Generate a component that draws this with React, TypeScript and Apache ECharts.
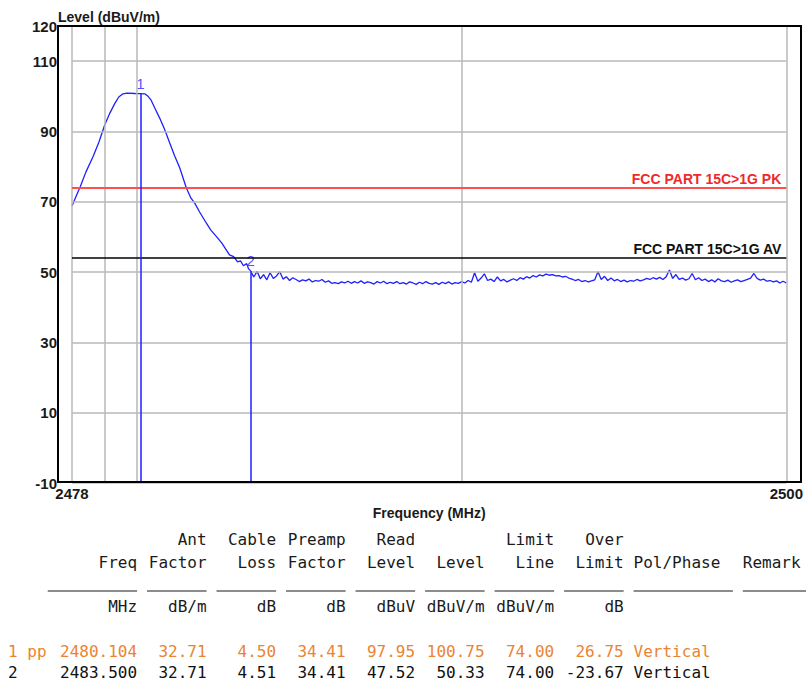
import React, { useEffect, useRef } from 'react';
import * as echarts from 'echarts';

// ---- axes ----
const FREQ_MIN = 2478;
const FREQ_MAX = 2500;
const LEVEL_MIN = -10;
const LEVEL_MAX = 120;
const X_TICK_LABELS = [2478, 2500];
const Y_TICK_LABELS = [120, 110, 90, 70, 50, 30, 10, -10];
const X_GRID = [2478, 2479, 2480, 2490, 2500];
const Y_GRID = [110, 90, 70, 50, 30, 10, -10];

// ---- trace: main lobe ----
const LOBE_FREQ = [2478.0, 2478.12, 2478.25, 2478.43, 2478.65, 2478.83, 2479.01, 2479.17, 2479.32, 2479.44,
  2479.57, 2479.69, 2479.94, 2480.104, 2480.24, 2480.33, 2480.43, 2480.55, 2480.7, 2480.86,
  2481.01, 2481.16, 2481.32, 2481.52, 2481.66, 2481.78, 2481.93, 2482.14, 2482.27, 2482.45,
  2482.61, 2482.73, 2482.85, 2482.98, 2483.1, 2483.19, 2483.28, 2483.38, 2483.44, 2483.5];
const LOBE_LEVEL = [68.8, 71.4, 74.2, 78.5, 82.9, 87.0, 91.9, 95.3, 98.0, 99.8,
  100.7, 100.9, 100.8, 100.75, 100.7, 100.1, 99.0, 96.7, 93.8, 90.4,
  86.7, 83.1, 79.6, 74.0, 71.1, 69.6, 67.1, 63.9, 62.0, 60.1,
  58.3, 56.6, 54.9, 54.4, 52.9, 53.2, 51.8, 52.4, 50.9, 50.33];

// ---- trace: noise floor sweep, 0.1 MHz steps from 2483.6 MHz ----
const SWEEP_START = 2483.6;
const SWEEP_STEP = 0.1;
const SWEEP_LEVEL = [
  48.6, 50.2, 48.1, 49.3, 47.8, 49.8, 48.2, 48.9, 50.1, 48.0,
  48.7, 47.6, 48.4, 47.9, 47.3, 47.8, 47.5, 48.0, 47.2, 47.6,
  47.4, 47.9, 47.1, 47.5, 46.8, 47.0, 46.7, 47.2, 46.9, 47.4,
  46.8, 47.3, 46.9, 47.5, 46.8, 47.2, 47.0, 46.6, 47.3, 46.9,
  47.4, 46.7, 47.1, 46.8, 47.3, 46.7, 47.0, 46.6, 47.2, 46.9,
  46.5, 47.1, 46.7, 47.3, 46.8, 46.6, 47.0, 46.5, 47.1, 46.7,
  47.2, 46.6, 47.0, 46.8, 47.3, 46.9, 47.6, 47.1, 49.8, 47.4,
  48.3, 49.5, 47.6, 48.0, 47.3, 48.6, 47.5, 47.9, 47.2, 47.7,
  48.1, 47.6, 48.4, 48.0, 48.7, 48.3, 49.0, 48.6, 49.2, 48.9,
  49.4, 49.1, 49.3, 48.9, 49.0, 48.6, 48.8, 48.3, 48.0, 47.6,
  47.9, 47.3, 47.6, 47.2, 47.5, 47.8, 50.1, 47.9, 48.8, 47.6,
  48.3, 47.5, 47.9, 47.3, 47.7, 47.2, 47.6, 47.4, 47.9, 47.5,
  47.8, 48.2, 47.9, 48.4, 48.0, 48.5, 47.9, 48.7, 50.6, 48.2,
  49.3, 47.9, 48.3, 47.7, 48.1, 49.6, 47.8, 48.4, 47.6, 48.0,
  47.3, 47.8, 47.2, 48.1, 47.5, 47.3, 47.7, 47.1, 47.5, 47.8,
  47.3, 47.6, 47.9, 48.3, 49.6, 48.2, 47.7, 48.0, 47.4, 47.6,
  47.2, 47.5, 46.9, 47.4, 46.9,
];

// ---- markers ----
const MARKER_IDS = ['1', '2'];
const MARKER_FREQ = [2480.104, 2483.5];
const MARKER_LEVEL = [100.75, 50.33];

// ---- limits ----
const LIMIT_NAMES = ['FCC PART 15C>1G PK', 'FCC PART 15C>1G AV'];
const LIMIT_VALUES = [74, 54];

// ---- table ----
const TABLE_HEAD1 = ['', 'Ant', 'Cable', 'Preamp', 'Read', '', 'Limit', 'Over'];
const TABLE_HEAD2 = ['Freq', 'Factor', 'Loss', 'Factor', 'Level', 'Level', 'Line', 'Limit'];
const TABLE_UNITS = ['MHz', 'dB/m', 'dB', 'dB', 'dBuV', 'dBuV/m', 'dBuV/m', 'dB'];
const TABLE_TAIL_HEAD = ['Pol/Phase', 'Remark'];
const ROW_LABELS = ['1 pp', '2'];
const ROW_FREQ = [2480.104, 2483.5];
const ROW_ANT = [32.71, 32.71];
const ROW_CABLE = [4.5, 4.51];
const ROW_PREAMP = [34.41, 34.41];
const ROW_READ = [97.95, 47.52];
const ROW_LEVEL = [100.75, 50.33];
const ROW_LIMIT = [74.0, 74.0];
const ROW_OVER = [26.75, -23.67];
const ROW_POL = ['Vertical', 'Vertical'];

const SANS = '"Liberation Sans", Arial, sans-serif';
const MONO = '"DejaVu Sans Mono", monospace';
const TRACE_BLUE = '#1f1fff';

function txt(x: number, y: number, text: string, fill: string, font: string, align: string, vAlign = 'middle') {
  return {
    type: 'text',
    x,
    y,
    silent: true,
    style: { text, fill, font, align, textAlign: align, verticalAlign: vAlign, textVerticalAlign: vAlign },
  };
}

function buildTable() {
  const CW = 9.93;
  const X0 = 8;
  const colRight = [13, 20, 27, 34, 41, 48, 55, 62];
  const polLeft = 63;
  const remarkLeft = 74;
  const yH1 = 539;
  const yH2 = 562.5;
  const yLine = 591;
  const yUnits = 606.5;
  const yRows = [651, 672.5];
  const font = `16px ${MONO}`;
  const dark = '#1a1a1a';
  const rowColors = ['#ea8434', '#111111'];
  const els: any[] = [];
  colRight.forEach((c, i) => {
    const x = X0 + c * CW;
    if (TABLE_HEAD1[i]) els.push(txt(x, yH1, TABLE_HEAD1[i], dark, font, 'right'));
    els.push(txt(x, yH2, TABLE_HEAD2[i], dark, font, 'right'));
    els.push(txt(x, yUnits, TABLE_UNITS[i], dark, font, 'right'));
  });
  els.push(txt(X0 + polLeft * CW, yH2, TABLE_TAIL_HEAD[0], dark, font, 'left'));
  els.push(txt(X0 + remarkLeft * CW, yH2, TABLE_TAIL_HEAD[1], dark, font, 'left'));
  // underline segments (column widths in characters)
  const segs: [number, number][] = [[4, 13], [14, 20], [21, 27], [28, 34], [35, 41], [42, 48], [49, 55], [56, 62], [63, 73], [74, 82]];
  segs.forEach(([a, b]) => {
    els.push({
      type: 'line',
      silent: true,
      shape: { x1: X0 + a * CW, y1: yLine, x2: X0 + b * CW, y2: yLine },
      style: { stroke: dark, lineWidth: 1.2 },
    });
  });
  ROW_LABELS.forEach((label, r) => {
    const color = rowColors[r];
    const y = yRows[r];
    const vals = [
      ROW_FREQ[r].toFixed(3), ROW_ANT[r].toFixed(2), ROW_CABLE[r].toFixed(2), ROW_PREAMP[r].toFixed(2),
      ROW_READ[r].toFixed(2), ROW_LEVEL[r].toFixed(2), ROW_LIMIT[r].toFixed(2), ROW_OVER[r].toFixed(2),
    ];
    els.push(txt(X0, y, label, color, font, 'left'));
    vals.forEach((v, i) => els.push(txt(X0 + colRight[i] * CW, y, v, color, font, 'right')));
    els.push(txt(X0 + polLeft * CW, y, ROW_POL[r], color, font, 'left'));
  });
  return els;
}

export default function App() {
  const ref = useRef<HTMLDivElement>(null);
  useEffect(() => {
    if (!ref.current) return;
    const chart = echarts.init(ref.current, null, { renderer: 'svg' });

    const trace: [number, number][] = LOBE_FREQ.map((f, i) => [f, LOBE_LEVEL[i]] as [number, number]);
    SWEEP_LEVEL.forEach((v, i) => trace.push([+(SWEEP_START + i * SWEEP_STEP).toFixed(1), v]));

    const gridLines = [
      ...X_GRID.map((x) => ({ xAxis: x })),
      ...Y_GRID.map((y) => ({ yAxis: y })),
    ];

    const limitColors = ['#ff5050', '#000000'];
    const limitTextColors = ['#ee2a2a', '#111111'];

    const option: any = {
      animation: false,
      backgroundColor: '#ffffff',
      grid: { left: 72, right: 18, top: 26, bottom: 199, containLabel: false },
      xAxis: {
        type: 'value',
        min: FREQ_MIN,
        max: FREQ_MAX,
        axisLine: { show: false },
        axisTick: { show: false },
        splitLine: { show: false },
        axisLabel: {
          customValues: X_TICK_LABELS,
          margin: 3,
          color: '#1a1a1a',
          fontFamily: SANS,
          fontWeight: 'bold',
          fontSize: 15,
          formatter: (v: number) => String(v),
        },
        name: 'Frequency (MHz)',
        nameLocation: 'middle',
        nameGap: 22,
        nameTextStyle: { color: '#1a1a1a', fontFamily: SANS, fontWeight: 'bold', fontSize: 14 },
      },
      yAxis: {
        type: 'value',
        min: LEVEL_MIN,
        max: LEVEL_MAX,
        axisLine: { show: false },
        axisTick: { show: false },
        splitLine: { show: false },
        axisLabel: {
          customValues: Y_TICK_LABELS,
          margin: 15,
          color: '#1a1a1a',
          fontFamily: SANS,
          fontWeight: 'bold',
          fontSize: 15,
          showMinLabel: true,
          showMaxLabel: true,
        },
      },
      series: [
        {
          type: 'line',
          data: [],
          z: 1,
          silent: true,
          markLine: {
            silent: true,
            symbol: ['none', 'none'],
            label: { show: false },
            lineStyle: { color: '#b8b8b8', width: 1.5, type: 'solid' },
            emphasis: { disabled: true },
            data: gridLines,
          },
        },
        {
          type: 'line',
          data: [],
          z: 2,
          silent: true,
          markLine: {
            silent: true,
            symbol: ['none', 'none'],
            emphasis: { disabled: true },
            data: LIMIT_VALUES.map((v, i) => ({
              yAxis: v,
              lineStyle: { color: limitColors[i], width: i === 0 ? 2 : 1.5, type: 'solid' },
              label: {
                show: true,
                position: 'insideEndTop',
                distance: [5, 2],
                formatter: LIMIT_NAMES[i],
                color: limitTextColors[i],
                fontFamily: SANS,
                fontWeight: 'bold',
                fontSize: 14,
              },
            })),
          },
        },
        {
          type: 'line',
          data: trace,
          z: 3,
          silent: true,
          symbol: 'none',
          lineStyle: { color: TRACE_BLUE, width: 1.3 },
          markLine: {
            silent: true,
            symbol: ['none', 'none'],
            emphasis: { disabled: true },
            lineStyle: { color: TRACE_BLUE, width: 1.5, type: 'solid' },
            label: { show: false },
            data: MARKER_IDS.map((id, i) => [
              { coord: [MARKER_FREQ[i], MARKER_LEVEL[i]] },
              { coord: [MARKER_FREQ[i], LEVEL_MIN] },
            ]),
          },
        },
        {
          type: 'scatter',
          z: 4,
          silent: true,
          symbol: 'circle',
          symbolSize: 1,
          itemStyle: { color: 'rgba(0,0,0,0)' },
          data: MARKER_IDS.map((id, i) => ({ value: [MARKER_FREQ[i], MARKER_LEVEL[i]], name: id })),
          label: {
            show: true,
            position: 'top',
            distance: 2,
            formatter: (p: any) => p.name,
            color: TRACE_BLUE,
            fontFamily: SANS,
            fontSize: 15,
          },
        },
      ],
      graphic: [
        {
          type: 'rect',
          silent: true,
          z: 100,
          shape: { x: 58, y: 26, width: 743, height: 456 },
          style: { fill: 'none', stroke: '#000000', lineWidth: 2 },
        },
        txt(58, 17, 'Level (dBuV/m)', '#1a1a1a', `bold 14px ${SANS}`, 'left'),
        ...buildTable(),
      ],
    };
    chart.setOption(option);
    return () => chart.dispose();
  }, []);
  return (
    <div
      ref={ref}
      style={{ position: 'absolute', left: 0, top: 0, width: 806, height: 682, background: '#fff' }}
    />
  );
}
